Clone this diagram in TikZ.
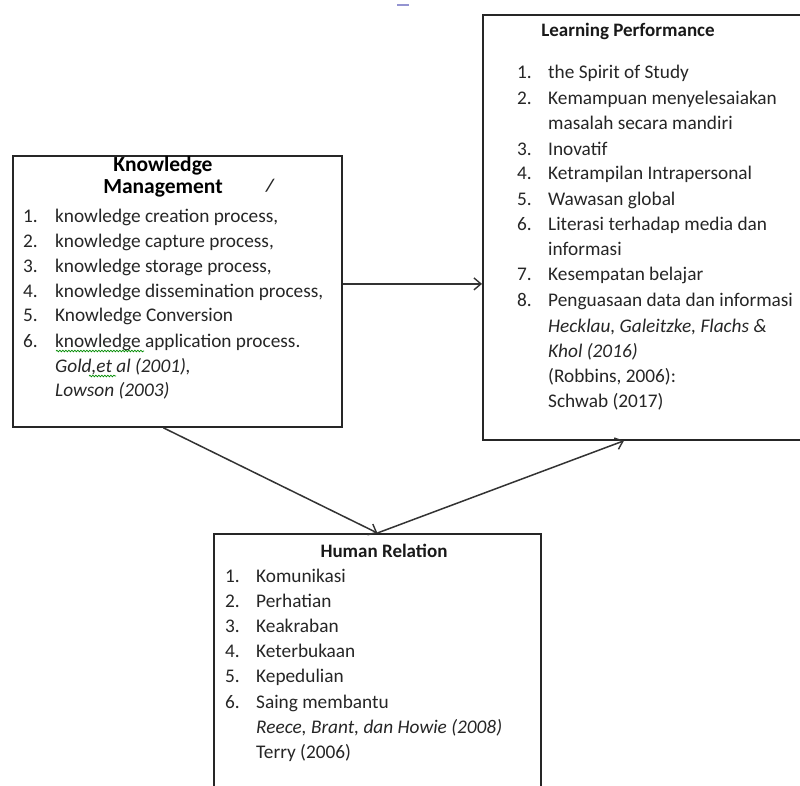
\documentclass[tikz,border=0pt]{standalone}
\usepackage{fontspec}
\setmainfont{Carlito}
\usetikzlibrary{arrows.meta,decorations.pathmorphing}
\begin{document}
\begin{tikzpicture}[x=1pt,y=-1pt,
  box/.style={draw=black!85, line width=1.8pt, rectangle, anchor=north west, inner sep=0pt},
  txt/.style={anchor=base west, inner sep=0pt, text=black!85, font=\fontsize{19.3}{22}\selectfont},
  ttl/.style={anchor=base, inner sep=0pt, text=black!90, font=\fontsize{19}{22}\selectfont\bfseries},
  bigttl/.style={anchor=base, inner sep=0pt, text=black, font=\fontsize{21.5}{20}\selectfont\bfseries},
  conn/.style={draw=black!80, line width=1.5pt, -{Straight Barb[length=7pt,width=12pt,line width=1.4pt]}},
  squig/.style={draw=green!55!black, line width=0.7pt, decorate, decoration={snake, amplitude=0.8pt, segment length=3pt}}]
\clip (0,0) rectangle (800,785);
\fill[white] (0,0) rectangle (800,785);
% boxes
\node[box, minimum width=329pt, minimum height=271pt] (km) at (12,155) {};
\node[box, minimum width=340pt, minimum height=425pt] (lp) at (482,14) {};
\node[box, minimum width=327pt, minimum height=290pt] (hr) at (213,533) {};
% stray mark at top
\draw[blue!40!gray!60, line width=2pt] (397,5) -- (409,5);
% Knowledge Management
\node[bigttl] (kmt1) at (163,171) {Knowledge};
\node[bigttl] (kmt2) at (163,193) {Management};
\node[txt, font=\fontsize{18}{20}\selectfont\bfseries\itshape] (kmslash) at (266,191) {/};
\node[txt] (kmn1) at (23,222) {1.}; \node[txt] (kmi1) at (55,222) {knowledge creation process,};
\node[txt] (kmn2) at (23,247) {2.}; \node[txt] (kmi2) at (55,247) {knowledge capture process,};
\node[txt] (kmn3) at (23,272) {3.}; \node[txt] (kmi3) at (55,272) {knowledge storage process,};
\node[txt] (kmn4) at (23,297) {4.}; \node[txt] (kmi4) at (55,297) {knowledge dissemination process,};
\node[txt] (kmn5) at (23,321) {5.}; \node[txt] (kmi5) at (55,321) {Knowledge Conversion};
\node[txt] (kmn6) at (23,347) {6.}; \node[txt] (kmi6) at (55,347) {knowledge application process.};
\node[txt] (kmr1) at (55,372) {\itshape Gold,et al (2001),};
\node[txt] (kmr2) at (55,396) {\itshape Lowson (2003)};
\draw[squig] (56,351) -- (144,351);
\draw[squig] (89,376) -- (116,376);
% Learning Performance
\node[ttl] (lpt) at (628,36) {Learning Performance};
\node[txt] (lpn1) at (517,78) {1.}; \node[txt] (lpi1) at (548,78) {the Spirit of Study};
\node[txt] (lpn2) at (517,104) {2.}; \node[txt] (lpi2) at (548,104) {Kemampuan menyelesaiakan};
\node[txt] (lpi2b) at (548,129) {masalah secara mandiri};
\node[txt] (lpn3) at (517,155) {3.}; \node[txt] (lpi3) at (548,155) {Inovatif};
\node[txt] (lpn4) at (517,179) {4.}; \node[txt] (lpi4) at (548,179) {Ketrampilan Intrapersonal};
\node[txt] (lpn5) at (517,205) {5.}; \node[txt] (lpi5) at (548,205) {Wawasan global};
\node[txt] (lpn6) at (517,230) {6.}; \node[txt] (lpi6) at (548,230) {Literasi terhadap media dan};
\node[txt] (lpi6b) at (548,255) {informasi};
\node[txt] (lpn7) at (517,280) {7.}; \node[txt] (lpi7) at (548,280) {Kesempatan belajar};
\node[txt] (lpn8) at (517,306) {8.}; \node[txt] (lpi8) at (548,306) {Penguasaan data dan informasi};
\node[txt] (lpr1) at (548,332) {\itshape Hecklau, Galeitzke, Flachs \&};
\node[txt] (lpr2) at (548,357) {\itshape Khol (2016)};
\node[txt] (lpr3) at (548,382) {(Robbins, 2006):};
\node[txt] (lpr4) at (548,407) {Schwab (2017)};
% Human Relation
\node[ttl] (hrt) at (384,557) {Human Relation};
\node[txt] (hrn1) at (225,582) {1.}; \node[txt] (hri1) at (256,582) {Komunikasi};
\node[txt] (hrn2) at (225,607) {2.}; \node[txt] (hri2) at (256,607) {Perhatian};
\node[txt] (hrn3) at (225,632) {3.}; \node[txt] (hri3) at (256,632) {Keakraban};
\node[txt] (hrn4) at (225,657) {4.}; \node[txt] (hri4) at (256,657) {Keterbukaan};
\node[txt] (hrn5) at (225,682) {5.}; \node[txt] (hri5) at (256,682) {Kepedulian};
\node[txt] (hrn6) at (225,708) {6.}; \node[txt] (hri6) at (256,708) {Saing membantu};
\node[txt] (hrr1) at (256,733) {\itshape Reece, Brant, dan Howie (2008)};
\node[txt] (hrr2) at (256,758) {Terry (2006)};
% connectors
\draw[conn] ([yshift=7.5pt]km.east) -- ([yshift=7.5pt]km.east -| lp.west);
\draw[conn] ([xshift=-14pt]km.south) -- (hr.north);
\draw[conn] (hr.north) -- ([xshift=-29pt]lp.south);
\end{tikzpicture}
\end{document}
